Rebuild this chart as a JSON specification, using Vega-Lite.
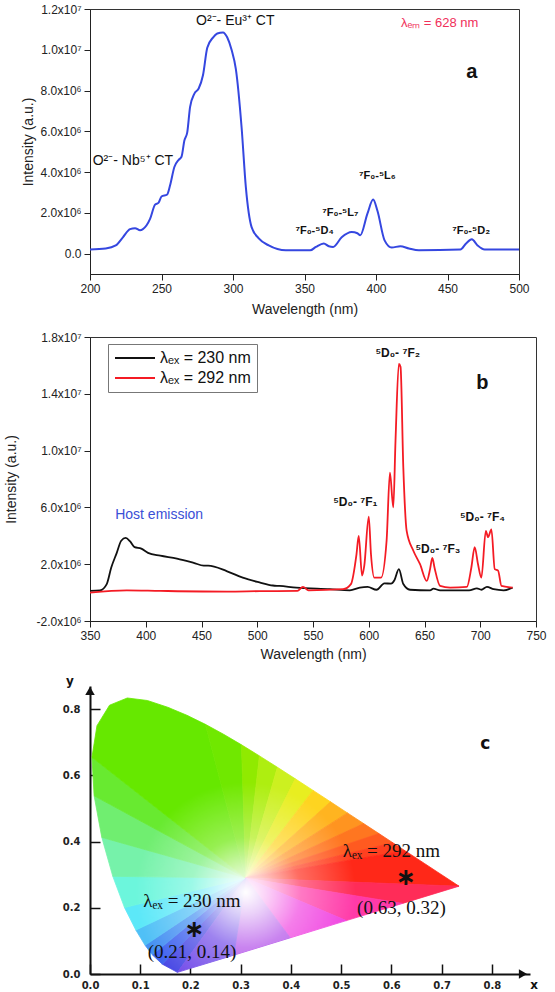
{
  "$schema": "https://vega.github.io/schema/vega-lite/v6.json",
  "background": "white",
  "padding": {"left": 3, "top": 2, "right": 5, "bottom": 2},
  "spacing": 13,
  "config": {
    "font": "Liberation Sans",
    "axis": {"labelFont": "Liberation Sans", "titleFont": "Liberation Sans", "grid": false, "labelFlush": false, "labelOverlap": false, "domainColor": "#222", "tickColor": "#222", "labelColor": "#222", "titleColor": "#222", "titleFontWeight": "normal"},
    "view": {"stroke": "#333"}
  },
  "datasets": {
    "exc": [
      {"x":200,"y":200000},{"x":211,"y":250000},{"x":218,"y":400000},{"x":223,"y":800000},{"x":228,"y":1200000},{"x":231.5,"y":1250000},{"x":235,"y":1150000},{"x":237,"y":1200000},{"x":242,"y":1700000},{"x":245.5,"y":2400000},{"x":248,"y":2500000},{"x":250,"y":2800000},{"x":254,"y":2900000},{"x":256,"y":3350000},{"x":259,"y":4250000},{"x":262,"y":4600000},{"x":264,"y":4750000},{"x":266,"y":5550000},{"x":268,"y":5950000},{"x":270,"y":7200000},{"x":273,"y":7850000},{"x":276,"y":8100000},{"x":279,"y":8750000},{"x":282,"y":10100000},{"x":286,"y":10600000},{"x":289,"y":10800000},{"x":293,"y":10850000},{"x":296,"y":10600000},{"x":299,"y":10000000},{"x":302,"y":9050000},{"x":306,"y":6200000},{"x":309,"y":3250000},{"x":313,"y":1300000},{"x":318,"y":750000},{"x":325,"y":400000},{"x":337,"y":160000},{"x":354,"y":160000},{"x":358,"y":330000},{"x":363.5,"y":500000},{"x":367,"y":360000},{"x":370,"y":330000},{"x":376,"y":800000},{"x":383,"y":1060000},{"x":387,"y":1000000},{"x":389,"y":900000},{"x":394,"y":1960000},{"x":398,"y":2650000},{"x":401,"y":2100000},{"x":406,"y":650000},{"x":411,"y":300000},{"x":417,"y":360000},{"x":423,"y":250000},{"x":430,"y":160000},{"x":459,"y":200000},{"x":463,"y":500000},{"x":467,"y":700000},{"x":471,"y":400000},{"x":476,"y":200000},{"x":484,"y":200000},{"x":500,"y":200000}
    ],
    "em": [
      {"s":"230","x":350,"y":120000},{"s":"230","x":359,"y":160000},{"s":"230","x":365,"y":600000},{"s":"230","x":369,"y":1750000},{"s":"230","x":374,"y":2800000},{"s":"230","x":378,"y":3650000},{"s":"230","x":382,"y":3850000},{"s":"230","x":386,"y":3600000},{"s":"230","x":390,"y":3200000},{"s":"230","x":396,"y":3100000},{"s":"230","x":402,"y":2800000},{"s":"230","x":413,"y":2600000},{"s":"230","x":428,"y":2400000},{"s":"230","x":443,"y":2100000},{"s":"230","x":452,"y":1900000},{"s":"230","x":456,"y":1900000},{"s":"230","x":473,"y":1500000},{"s":"230","x":487,"y":1050000},{"s":"230","x":502,"y":720000},{"s":"230","x":514,"y":500000},{"s":"230","x":520,"y":470000},{"s":"230","x":535,"y":350000},{"s":"230","x":565,"y":240000},{"s":"230","x":583,"y":160000},{"s":"230","x":592,"y":350000},{"s":"230","x":599,"y":400000},{"s":"230","x":607,"y":200000},{"s":"230","x":614,"y":650000},{"s":"230","x":620,"y":630000},{"s":"230","x":623,"y":870000},{"s":"230","x":627,"y":1650000},{"s":"230","x":631,"y":600000},{"s":"230","x":637,"y":200000},{"s":"230","x":655,"y":160000},{"s":"230","x":658,"y":280000},{"s":"230","x":664,"y":160000},{"s":"230","x":690,"y":160000},{"s":"230","x":697,"y":300000},{"s":"230","x":701,"y":200000},{"s":"230","x":706,"y":400000},{"s":"230","x":712,"y":240000},{"s":"230","x":721,"y":160000},{"s":"230","x":729,"y":350000},
      {"s":"292","x":350,"y":0},{"s":"292","x":383,"y":160000},{"s":"292","x":413,"y":120000},{"s":"292","x":473,"y":70000},{"s":"292","x":502,"y":100000},{"s":"292","x":536,"y":120000},{"s":"292","x":541,"y":400000},{"s":"292","x":546,"y":160000},{"s":"292","x":577,"y":240000},{"s":"292","x":584,"y":600000},{"s":"292","x":589,"y":2700000},{"s":"292","x":591,"y":4000000},{"s":"292","x":594,"y":1200000},{"s":"292","x":596,"y":1900000},{"s":"292","x":600,"y":5350000},{"s":"292","x":602,"y":2700000},{"s":"292","x":605,"y":1050000},{"s":"292","x":611,"y":1050000},{"s":"292","x":616,"y":3650000},{"s":"292","x":619,"y":8450000},{"s":"292","x":622,"y":6000000},{"s":"292","x":624,"y":10700000},{"s":"292","x":627,"y":16100000},{"s":"292","x":628.5,"y":15900000},{"s":"292","x":631,"y":8800000},{"s":"292","x":634,"y":4350000},{"s":"292","x":640,"y":2950000},{"s":"292","x":646,"y":2000000},{"s":"292","x":652,"y":820000},{"s":"292","x":655,"y":1650000},{"s":"292","x":657,"y":2450000},{"s":"292","x":659,"y":1750000},{"s":"292","x":664,"y":470000},{"s":"292","x":673,"y":350000},{"s":"292","x":688,"y":400000},{"s":"292","x":692,"y":1750000},{"s":"292","x":695,"y":3200000},{"s":"292","x":698,"y":2000000},{"s":"292","x":701,"y":1050000},{"s":"292","x":705,"y":4350000},{"s":"292","x":707,"y":3900000},{"s":"292","x":710,"y":4450000},{"s":"292","x":713,"y":1650000},{"s":"292","x":716,"y":1550000},{"s":"292","x":719,"y":470000},{"s":"292","x":729,"y":350000}
    ],
    "locus": [
      {"i":1,"x":0.1741,"y":0.0050},{"i":2,"x":0.1440,"y":0.0297},{"i":3,"x":0.1241,"y":0.0578},{"i":4,"x":0.1096,"y":0.0868},{"i":5,"x":0.0913,"y":0.1327},{"i":6,"x":0.0687,"y":0.2007},{"i":7,"x":0.0454,"y":0.2950},{"i":8,"x":0.0235,"y":0.4127},{"i":9,"x":0.0082,"y":0.5384},{"i":10,"x":0.0039,"y":0.6548},{"i":11,"x":0.0139,"y":0.7502},{"i":12,"x":0.0389,"y":0.8120},{"i":13,"x":0.0743,"y":0.8338},{"i":14,"x":0.1142,"y":0.8262},{"i":15,"x":0.1547,"y":0.8059},{"i":16,"x":0.1929,"y":0.7816},{"i":17,"x":0.2296,"y":0.7543},{"i":18,"x":0.2658,"y":0.7243},{"i":19,"x":0.3016,"y":0.6923},{"i":20,"x":0.3373,"y":0.6589},{"i":21,"x":0.3731,"y":0.6245},{"i":22,"x":0.4087,"y":0.5896},{"i":23,"x":0.4441,"y":0.5547},{"i":24,"x":0.4788,"y":0.5202},{"i":25,"x":0.5125,"y":0.4866},{"i":26,"x":0.5448,"y":0.4544},{"i":27,"x":0.5752,"y":0.4242},{"i":28,"x":0.6029,"y":0.3965},{"i":29,"x":0.6270,"y":0.3725},{"i":30,"x":0.6658,"y":0.3340},{"i":31,"x":0.6915,"y":0.3083},{"i":32,"x":0.7190,"y":0.2809},{"i":33,"x":0.7347,"y":0.2653},{"i":34,"x":0.6225,"y":0.2133},{"i":35,"x":0.5103,"y":0.1613},{"i":36,"x":0.3985,"y":0.1093},{"i":37,"x":0.2863,"y":0.0570}
    ],
    "fan": [
      {"r":"r01","o":0,"x":0.31,"y":0.29},{"r":"r01","o":1,"x":0.1741,"y":0.0050},{"r":"r01","o":2,"x":0.1440,"y":0.0297},
      {"r":"r02","o":0,"x":0.31,"y":0.29},{"r":"r02","o":1,"x":0.1440,"y":0.0297},{"r":"r02","o":2,"x":0.1241,"y":0.0578},
      {"r":"r03","o":0,"x":0.31,"y":0.29},{"r":"r03","o":1,"x":0.1241,"y":0.0578},{"r":"r03","o":2,"x":0.1096,"y":0.0868},
      {"r":"r04","o":0,"x":0.31,"y":0.29},{"r":"r04","o":1,"x":0.1096,"y":0.0868},{"r":"r04","o":2,"x":0.0913,"y":0.1327},
      {"r":"r05","o":0,"x":0.31,"y":0.29},{"r":"r05","o":1,"x":0.0913,"y":0.1327},{"r":"r05","o":2,"x":0.0687,"y":0.2007},
      {"r":"r06","o":0,"x":0.31,"y":0.29},{"r":"r06","o":1,"x":0.0687,"y":0.2007},{"r":"r06","o":2,"x":0.0454,"y":0.2950},
      {"r":"r07","o":0,"x":0.31,"y":0.29},{"r":"r07","o":1,"x":0.0454,"y":0.2950},{"r":"r07","o":2,"x":0.0235,"y":0.4127},
      {"r":"r08","o":0,"x":0.31,"y":0.29},{"r":"r08","o":1,"x":0.0235,"y":0.4127},{"r":"r08","o":2,"x":0.0082,"y":0.5384},
      {"r":"r09","o":0,"x":0.31,"y":0.29},{"r":"r09","o":1,"x":0.0082,"y":0.5384},{"r":"r09","o":2,"x":0.0039,"y":0.6548},
      {"r":"r10","o":0,"x":0.31,"y":0.29},{"r":"r10","o":1,"x":0.0039,"y":0.6548},{"r":"r10","o":2,"x":0.0139,"y":0.7502},{"r":"r10","o":3,"x":0.0389,"y":0.8120},{"r":"r10","o":4,"x":0.0743,"y":0.8338},{"r":"r10","o":5,"x":0.1142,"y":0.8262},{"r":"r10","o":6,"x":0.1547,"y":0.8059},{"r":"r10","o":7,"x":0.1929,"y":0.7816},{"r":"r10","o":8,"x":0.2296,"y":0.7543},
      {"r":"r11","o":0,"x":0.31,"y":0.29},{"r":"r11","o":1,"x":0.2296,"y":0.7543},{"r":"r11","o":2,"x":0.2658,"y":0.7243},{"r":"r11","o":3,"x":0.3016,"y":0.6923},
      {"r":"r12","o":0,"x":0.31,"y":0.29},{"r":"r12","o":1,"x":0.3016,"y":0.6923},{"r":"r12","o":2,"x":0.3373,"y":0.6589},
      {"r":"r13","o":0,"x":0.31,"y":0.29},{"r":"r13","o":1,"x":0.3373,"y":0.6589},{"r":"r13","o":2,"x":0.3731,"y":0.6245},
      {"r":"r14","o":0,"x":0.31,"y":0.29},{"r":"r14","o":1,"x":0.3731,"y":0.6245},{"r":"r14","o":2,"x":0.4087,"y":0.5896},
      {"r":"r15","o":0,"x":0.31,"y":0.29},{"r":"r15","o":1,"x":0.4087,"y":0.5896},{"r":"r15","o":2,"x":0.4441,"y":0.5547},
      {"r":"r16","o":0,"x":0.31,"y":0.29},{"r":"r16","o":1,"x":0.4441,"y":0.5547},{"r":"r16","o":2,"x":0.4788,"y":0.5202},
      {"r":"r17","o":0,"x":0.31,"y":0.29},{"r":"r17","o":1,"x":0.4788,"y":0.5202},{"r":"r17","o":2,"x":0.5125,"y":0.4866},
      {"r":"r18","o":0,"x":0.31,"y":0.29},{"r":"r18","o":1,"x":0.5125,"y":0.4866},{"r":"r18","o":2,"x":0.5448,"y":0.4544},
      {"r":"r19","o":0,"x":0.31,"y":0.29},{"r":"r19","o":1,"x":0.5448,"y":0.4544},{"r":"r19","o":2,"x":0.5752,"y":0.4242},
      {"r":"r20","o":0,"x":0.31,"y":0.29},{"r":"r20","o":1,"x":0.5752,"y":0.4242},{"r":"r20","o":2,"x":0.6029,"y":0.3965},
      {"r":"r21","o":0,"x":0.31,"y":0.29},{"r":"r21","o":1,"x":0.6029,"y":0.3965},{"r":"r21","o":2,"x":0.6270,"y":0.3725},
      {"r":"r22","o":0,"x":0.31,"y":0.29},{"r":"r22","o":1,"x":0.6270,"y":0.3725},{"r":"r22","o":2,"x":0.6658,"y":0.3340},{"r":"r22","o":3,"x":0.6915,"y":0.3083},{"r":"r22","o":4,"x":0.7190,"y":0.2809},{"r":"r22","o":5,"x":0.7347,"y":0.2653},
      {"r":"r23","o":0,"x":0.31,"y":0.29},{"r":"r23","o":1,"x":0.7347,"y":0.2653},{"r":"r23","o":2,"x":0.6225,"y":0.2133},
      {"r":"r24","o":0,"x":0.31,"y":0.29},{"r":"r24","o":1,"x":0.6225,"y":0.2133},{"r":"r24","o":2,"x":0.5103,"y":0.1613},
      {"r":"r25","o":0,"x":0.31,"y":0.29},{"r":"r25","o":1,"x":0.5103,"y":0.1613},{"r":"r25","o":2,"x":0.3985,"y":0.1093},
      {"r":"r26","o":0,"x":0.31,"y":0.29},{"r":"r26","o":1,"x":0.3985,"y":0.1093},{"r":"r26","o":2,"x":0.2863,"y":0.0570},
      {"r":"r27","o":0,"x":0.31,"y":0.29},{"r":"r27","o":1,"x":0.2863,"y":0.0570},{"r":"r27","o":2,"x":0.1741,"y":0.0050}
    ]
  },
  "vconcat": [
    {
      "width": 429, "height": 265,
      "layer": [
        {
          "data": {"name": "exc"},
          "mark": {"type": "line", "color": "#3547e0", "strokeWidth": 2, "interpolate": "monotone"},
          "encoding": {
            "x": {"field": "x", "type": "quantitative", "scale": {"domain": [200, 500], "nice": false, "zero": false},
              "axis": {"title": "Wavelength (nm)", "titleFontSize": 14, "titlePadding": 8, "labelFontSize": 12, "labelPadding": 3,
                "values": [200,225,250,275,300,325,350,375,400,425,450,475,500],
                "labelExpr": "datum.value % 50 == 0 ? datum.label : ''",
                "tickSize": {"condition": {"test": "datum.value % 50 == 0", "value": 6}, "value": 3}}},
            "y": {"field": "y", "type": "quantitative", "scale": {"domain": [-1000000, 12000000], "nice": false, "zero": false},
              "axis": {"title": "Intensity (a.u.)", "titleFontSize": 14, "titlePadding": 5, "labelFontSize": 12, "labelPadding": 3,
                "values": [0,1000000,2000000,3000000,4000000,5000000,6000000,7000000,8000000,9000000,10000000,11000000,12000000],
                "labelExpr": "datum.value % 2000000 != 0 ? '' : datum.value == 0 ? '0.0' : (datum.value < 0 ? '-' : '') + (abs(datum.value) >= 10000000 ? format(abs(datum.value)/10000000, '.1f') + 'x10⁷' : format(abs(datum.value)/1000000, '.1f') + 'x10⁶')",
                "tickSize": {"condition": {"test": "datum.value % 2000000 == 0", "value": 6}, "value": 3}}}
          }
        },
        {
          "data": {"values": [{"x": 301.6, "y": 11400000, "t": "O²⁻- Eu³⁺ CT"}, {"x": 230, "y": 4550000, "t": "O²⁻- Nb⁵⁺ CT"}]},
          "mark": {"type": "text", "fontSize": 14, "color": "#111"},
          "encoding": {"x": {"field": "x", "type": "quantitative"}, "y": {"field": "y", "type": "quantitative"}, "text": {"field": "t"}}
        },
        {
          "data": {"values": [{"x": 444.5, "y": 11300000, "t": "λₑₘ = 628 nm"}]},
          "mark": {"type": "text", "fontSize": 13, "color": "#f0305a"},
          "encoding": {"x": {"field": "x", "type": "quantitative"}, "y": {"field": "y", "type": "quantitative"}, "text": {"field": "t"}}
        },
        {
          "data": {"values": [{"x": 467, "y": 8900000, "t": "a"}]},
          "mark": {"type": "text", "fontSize": 20, "fontWeight": "bold", "color": "#111"},
          "encoding": {"x": {"field": "x", "type": "quantitative"}, "y": {"field": "y", "type": "quantitative"}, "text": {"field": "t"}}
        },
        {
          "data": {"values": [{"x": 401, "y": 3800000, "t": "⁷F₀-⁵L₆"}, {"x": 375, "y": 2000000, "t": "⁷F₀-⁵L₇"}, {"x": 357, "y": 1130000, "t": "⁷F₀-⁵D₄"}, {"x": 466.5, "y": 1130000, "t": "⁷F₀-⁵D₂"}]},
          "mark": {"type": "text", "fontSize": 11, "fontWeight": "bold", "color": "#111"},
          "encoding": {"x": {"field": "x", "type": "quantitative"}, "y": {"field": "y", "type": "quantitative"}, "text": {"field": "t"}}
        }
      ]
    },
    {
      "width": 446, "height": 284,
      "layer": [
        {
          "data": {"name": "em"},
          "mark": {"type": "line", "strokeWidth": 1.8, "interpolate": "monotone"},
          "encoding": {
            "x": {"field": "x", "type": "quantitative", "scale": {"domain": [350, 750], "nice": false, "zero": false},
              "axis": {"title": "Wavelength (nm)", "titleFontSize": 14, "titlePadding": 6, "labelFontSize": 12, "labelPadding": 3,
                "values": [350,375,400,425,450,475,500,525,550,575,600,625,650,675,700,725,750],
                "labelExpr": "datum.value % 50 == 0 ? datum.label : ''",
                "tickSize": {"condition": {"test": "datum.value % 50 == 0", "value": 6}, "value": 3}}},
            "y": {"field": "y", "type": "quantitative", "scale": {"domain": [-2000000, 18000000], "nice": false, "zero": false},
              "axis": {"title": "Intensity (a.u.)", "titleFontSize": 14, "titlePadding": 18, "labelFontSize": 12, "labelPadding": 3,
                "values": [-2000000,-1000000,0,1000000,2000000,3000000,4000000,5000000,6000000,7000000,8000000,9000000,10000000,11000000,12000000,13000000,14000000,15000000,16000000,17000000,18000000],
                "labelExpr": "datum.value % 2000000 != 0 ? '' : datum.value == 0 ? '0.0' : (datum.value < 0 ? '-' : '') + (abs(datum.value) >= 10000000 ? format(abs(datum.value)/10000000, '.1f') + 'x10⁷' : format(abs(datum.value)/1000000, '.1f') + 'x10⁶')",
                "tickSize": {"condition": {"test": "datum.value % 2000000 == 0", "value": 6}, "value": 3}}},
            "color": {"field": "s", "type": "nominal", "scale": {"domain": ["230", "292"], "range": ["#111111", "#f41b24"]},
              "legend": {"orient": "none", "legendX": 18, "legendY": 335, "title": null, "strokeColor": "#777", "fillColor": "white", "padding": 6,
                "symbolType": "stroke", "symbolSize": 1600, "symbolStrokeWidth": 2, "clipHeight": 16, "labelFontSize": 16, "labelOffset": 4, "labelFont": "Liberation Sans", "labelColor": "#111", "rowPadding": 4,
                "labelExpr": "'λₑₓ = ' + datum.label + ' nm'"}}
          }
        },
        {
          "data": {"values": [{"x": 626, "y": 16900000, "t": "⁵D₀- ⁷F₂"}, {"x": 588, "y": 6350000, "t": "⁵D₀- ⁷F₁"}, {"x": 662, "y": 3100000, "t": "⁵D₀- ⁷F₃"}, {"x": 702, "y": 5300000, "t": "⁵D₀- ⁷F₄"}]},
          "mark": {"type": "text", "fontSize": 12, "fontWeight": "bold", "color": "#111"},
          "encoding": {"x": {"field": "x", "type": "quantitative"}, "y": {"field": "y", "type": "quantitative"}, "text": {"field": "t"}}
        },
        {
          "data": {"values": [{"x": 702, "y": 14750000, "t": "b"}]},
          "mark": {"type": "text", "fontSize": 20, "fontWeight": "bold", "color": "#111"},
          "encoding": {"x": {"field": "x", "type": "quantitative"}, "y": {"field": "y", "type": "quantitative"}, "text": {"field": "t"}}
        },
        {
          "data": {"values": [{"x": 412, "y": 5450000, "t": "Host emission"}]},
          "mark": {"type": "text", "fontSize": 14, "color": "#3a4fd6"},
          "encoding": {"x": {"field": "x", "type": "quantitative"}, "y": {"field": "y", "type": "quantitative"}, "text": {"field": "t"}}
        }
      ]
    },
    {
      "width": 440, "height": 288,
      "view": {"stroke": null},
      "layer": [
        {
          "data": {"name": "fan"},
          "mark": {"type": "line", "interpolate": "linear-closed", "strokeWidth": 0.8},
          "encoding": {
            "x": {"field": "x", "type": "quantitative", "scale": {"domain": [0, 0.876], "nice": false, "zero": false},
              "axis": {"title": null, "values": [0,0.1,0.2,0.3,0.4,0.5,0.6,0.7,0.8], "format": ".1f", "tickSize": -10, "tickWidth": 1.5, "tickColor": "#111",
                "domainWidth": 2, "domainColor": "#111", "labelFont": "DejaVu Sans", "labelFontWeight": "bold", "labelFontSize": 10, "labelPadding": 16}},
            "y": {"field": "y", "type": "quantitative", "scale": {"domain": [0, 0.87], "nice": false, "zero": false},
              "axis": {"title": null, "values": [0,0.1,0.2,0.3,0.4,0.5,0.6,0.7,0.8], "format": ".1f", "tickSize": -10, "tickWidth": 1.5, "tickColor": "#111",
                "domainWidth": 2, "domainColor": "#111", "labelFont": "DejaVu Sans", "labelFontWeight": "bold", "labelFontSize": 10, "labelPadding": 20}},
            "order": {"field": "o", "type": "quantitative"},
            "detail": {"field": "r"},
            "fill": {"field": "r", "type": "nominal", "legend": null,
              "scale": {"domain": ["r01","r02","r03","r04","r05","r06","r07","r08","r09","r10","r11","r12","r13","r14","r15","r16","r17","r18","r19","r20","r21","r22","r23","r24","r25","r26","r27"],
                "range": ["#4848e4","#3e62ee","#4490f2","#50c0f6","#5ce8f8","#6cf6dc","#76f2aa","#70ee70","#68ea30","#66e800","#70e800","#90ea00","#aeee10","#ccf020","#e8ee20","#fed420","#ffb420","#ff9420","#ff7620","#ff5a20","#ff4020","#ff2818","#ff2c58","#ff3aa8","#f040e0","#b04ae8","#7048e8"]}},
            "stroke": {"field": "r", "type": "nominal", "legend": null,
              "scale": {"domain": ["r01","r02","r03","r04","r05","r06","r07","r08","r09","r10","r11","r12","r13","r14","r15","r16","r17","r18","r19","r20","r21","r22","r23","r24","r25","r26","r27"],
                "range": ["#4848e4","#3e62ee","#4490f2","#50c0f6","#5ce8f8","#6cf6dc","#76f2aa","#70ee70","#68ea30","#66e800","#70e800","#90ea00","#aeee10","#ccf020","#e8ee20","#fed420","#ffb420","#ff9420","#ff7620","#ff5a20","#ff4020","#ff2818","#ff2c58","#ff3aa8","#f040e0","#b04ae8","#7048e8"]}}
          }
        },
        {
          "data": {"name": "locus"},
          "mark": {"type": "line", "interpolate": "linear-closed", "strokeWidth": 0,
            "fill": {"gradient": "radial", "x1": 0.419, "y1": 0.656, "r1": 0, "x2": 0.419, "y2": 0.656, "r2": 0.3,
              "stops": [{"offset": 0, "color": "rgba(255,255,255,1)"}, {"offset": 0.2, "color": "rgba(255,255,255,0.75)"}, {"offset": 0.5, "color": "rgba(255,255,255,0.32)"}, {"offset": 1, "color": "rgba(255,255,255,0)"}]}},
          "encoding": {"x": {"field": "x", "type": "quantitative"}, "y": {"field": "y", "type": "quantitative"}, "order": {"field": "i", "type": "quantitative"}}
        },
        {
          "data": {"values": [{"x": 0, "y": 0.855, "d": "up"}, {"x": 0.862, "y": 0, "d": "right"}]},
          "mark": {"type": "point", "filled": true, "size": 90, "color": "#111", "opacity": 1},
          "encoding": {"x": {"field": "x", "type": "quantitative"}, "y": {"field": "y", "type": "quantitative"},
            "shape": {"field": "d", "type": "nominal", "legend": null, "scale": {"domain": ["up", "right"], "range": ["triangle-up", "triangle-right"]}}}
        },
        {
          "data": {"values": [{"x": -0.04, "y": 0.885, "t": "y"}, {"x": 0.884, "y": -0.033, "t": "x"}]},
          "mark": {"type": "text", "fontSize": 12, "fontWeight": "bold", "font": "DejaVu Sans", "color": "#111"},
          "encoding": {"x": {"field": "x", "type": "quantitative"}, "y": {"field": "y", "type": "quantitative"}, "text": {"field": "t"}}
        },
        {
          "data": {"values": [{"x": 0.787, "y": 0.695, "t": "c"}]},
          "mark": {"type": "text", "fontSize": 17, "fontWeight": "bold", "font": "DejaVu Sans", "color": "#111"},
          "encoding": {"x": {"field": "x", "type": "quantitative"}, "y": {"field": "y", "type": "quantitative"}, "text": {"field": "t"}}
        },
        {
          "data": {"values": [{"x": 0.203, "y": 0.22, "t": "λₑₓ = 230 nm"}, {"x": 0.203, "y": 0.066, "t": "(0.21, 0.14)"}, {"x": 0.60, "y": 0.372, "t": "λₑₓ = 292 nm"}, {"x": 0.62, "y": 0.20, "t": "(0.63, 0.32)"}]},
          "mark": {"type": "text", "fontSize": 19, "font": "Liberation Serif", "color": "#111"},
          "encoding": {"x": {"field": "x", "type": "quantitative"}, "y": {"field": "y", "type": "quantitative"}, "text": {"field": "t"}}
        },
        {
          "data": {"values": [{"x": 0.207, "y": 0.132, "t": "∗"}, {"x": 0.628, "y": 0.29, "t": "∗"}]},
          "mark": {"type": "text", "fontSize": 24, "fontWeight": "bold", "font": "DejaVu Sans", "color": "#111"},
          "encoding": {"x": {"field": "x", "type": "quantitative"}, "y": {"field": "y", "type": "quantitative"}, "text": {"field": "t"}}
        }
      ]
    }
  ]
}
